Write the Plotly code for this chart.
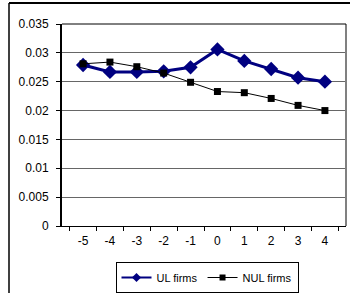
import plotly.graph_objects as go

categories = ["-5", "-4", "-3", "-2", "-1", "0", "1", "2", "3", "4"]
ul_firms = [0.0279, 0.0267, 0.0267, 0.0268, 0.0275, 0.0306, 0.0286, 0.0272, 0.0257, 0.0250]
nul_firms = [0.0281, 0.0284, 0.0276, 0.0265, 0.0249, 0.0233, 0.0231, 0.0221, 0.0209, 0.0200]
y_ticks = [0, 0.005, 0.01, 0.015, 0.02, 0.025, 0.03, 0.035]
y_tick_text = ["0", "0.005", "0.01", "0.015", "0.02", "0.025", "0.03", "0.035"]

W, H = 350, 293
L, R, T, B = 62, 4, 24, 67
pw, ph = W - L - R, H - T - B

def px_x(x):
    return (x - L) / pw

def px_y(y):
    return (H - B - y) / ph

UL_COLOR = "#000080"
NUL_COLOR = "#000000"

fig = go.Figure()
fig.add_trace(go.Scatter(
    x=categories, y=ul_firms, name="UL firms", mode="lines+markers",
    line=dict(color=UL_COLOR, width=3),
    marker=dict(symbol="diamond", size=11, color=UL_COLOR),
    showlegend=False,
))
fig.add_trace(go.Scatter(
    x=categories, y=nul_firms, name="NUL firms", mode="lines+markers",
    line=dict(color=NUL_COLOR, width=1),
    marker=dict(symbol="square", size=7, color=NUL_COLOR),
    showlegend=False,
))
# legend entries with smaller markers, as in the reference
fig.add_trace(go.Scatter(
    x=[None], y=[None], name="UL firms", mode="lines+markers",
    line=dict(color=UL_COLOR, width=2),
    marker=dict(symbol="diamond", size=7, color=UL_COLOR),
))
fig.add_trace(go.Scatter(
    x=[None], y=[None], name="NUL firms", mode="lines+markers",
    line=dict(color=NUL_COLOR, width=1),
    marker=dict(symbol="square", size=6, color=NUL_COLOR),
))

font = dict(family="Liberation Sans, Arial, sans-serif", size=12, color="#000000")
lfont = dict(family="Liberation Sans, Arial, sans-serif", size=11, color="#000000")

fig.update_layout(
    width=W, height=H,
    margin=dict(l=L, r=R, t=T, b=B, autoexpand=False),
    paper_bgcolor="white", plot_bgcolor="white",
    font=font,
    showlegend=True,
    legend=dict(
        orientation="h", xref="container", yref="container",
        x=207 / W, xanchor="center", y=1 - 262 / H, yanchor="top",
        bordercolor="#000000", borderwidth=1, font=lfont,
        itemwidth=30, tracegroupgap=0,
    ),
    xaxis=dict(
        type="category", tickson="boundaries", ticks="outside", ticklen=4,
        tickcolor="#000000", showgrid=False, showline=True, linecolor="#000000",
        linewidth=1, zeroline=False, tickfont=font, ticklabelstandoff=4,
        automargin=False,
    ),
    yaxis=dict(
        range=[0, 0.035], tickvals=y_ticks, ticktext=y_tick_text,
        ticks="outside", ticklen=4, tickcolor="#000000",
        showgrid=True, gridcolor="#666666", gridwidth=1,
        showline=True, linecolor="#000000", linewidth=2, zeroline=False,
        tickfont=font, ticklabelstandoff=5, automargin=False,
    ),
    shapes=[
        dict(type="line", xref="paper", yref="paper", x0=1, x1=1, y0=0, y1=1,
             line=dict(color="#808080", width=2)),
        dict(type="line", xref="paper", yref="paper", x0=0, x1=1, y0=1, y1=1,
             line=dict(color="#000000", width=1)),
        # outer chart border: left and top edges (right/bottom are off-image)
        dict(type="line", xref="paper", yref="paper",
             x0=px_x(9), x1=px_x(9), y0=px_y(298), y1=px_y(3),
             line=dict(color="#000000", width=1.5)),
        dict(type="line", xref="paper", yref="paper",
             x0=px_x(9), x1=px_x(355), y0=px_y(3), y1=px_y(3),
             line=dict(color="#000000", width=2)),
    ],
)

fig.write_html(
    "out.html",
    config={"displayModeBar": False},
    post_script="document.body.style.margin='0';",
)
